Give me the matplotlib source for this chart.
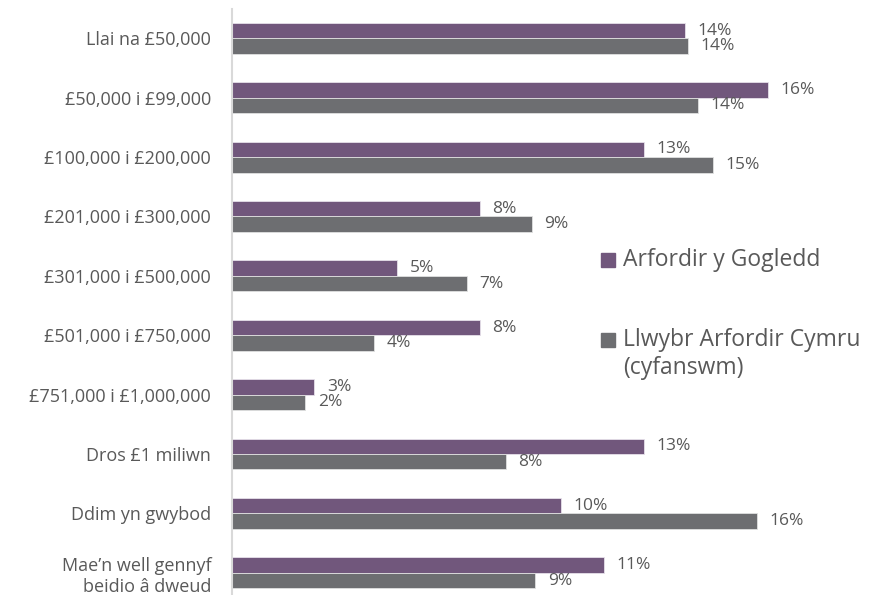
import matplotlib
matplotlib.use('Agg')
import numpy as np
from matplotlib import pyplot as plt
from matplotlib.patches import Rectangle

plt.rcParams['font.family'] = ['Open Sans', 'DejaVu Sans']

# --- Data ---
categories = ['Llai na £50,000', '£50,000 i £99,000', '£100,000 i £200,000',
              '£201,000 i £300,000', '£301,000 i £500,000', '£501,000 i £750,000',
              '£751,000 i £1,000,000', 'Dros £1 miliwn', 'Ddim yn gwybod',
              'Mae’n well gennyf\nbeidio â dweud']
gogledd = [13.9, 16.45, 12.65, 7.6, 5.07, 7.6, 2.53, 12.65, 10.1, 11.4]
cymru = [14.0, 14.3, 14.76, 9.2, 7.2, 4.36, 2.25, 8.4, 16.1, 9.3]
series_names = ['Arfordir y Gogledd', 'Llwybr Arfordir Cymru\n(cyfanswm)']

purple = '#71577c'
grey = '#6d6e71'
text_c = '#595959'

W, H = 870, 595
fig = plt.figure(figsize=(W / 100, H / 100), dpi=100)
# axes placed in pixel terms (left, top, right, bottom)
l, t, r, b = 232, 8.6, 232 + 18 * 32.6, 602.5
ax = fig.add_axes([l / W, 1 - b / H, (r - l) / W, (b - t) / H])

y = np.arange(len(categories))
h = 0.26
bars_g = ax.barh(y - h / 2, gogledd, height=h, color=purple,
                 edgecolor='#e6e0ea', linewidth=0.6)
bars_c = ax.barh(y + h / 2, cymru, height=h, color=grey,
                 edgecolor='#e0e0e0', linewidth=0.6)

# data labels, rounded to whole percent
for bars, vals in [(bars_g, gogledd), (bars_c, cymru)]:
    ax.bar_label(bars, labels=[f'{v:.0f}%' for v in vals], padding=9,
                 fontsize=12.5, color=text_c)

ax.set_xlim(0, 18)
ax.set_ylim(len(categories) - 0.5, -0.5)
ax.set_yticks(y)
ax.set_yticklabels(categories, fontsize=13, color=text_c, linespacing=1.25)
ax.tick_params(axis='y', length=0, pad=15)
ax.set_xticks([])
for s in ['top', 'right', 'bottom']:
    ax.spines[s].set_visible(False)
ax.spines['left'].set_color('#d9d9d9')
ax.spines['left'].set_linewidth(1.5)

# --- Legend (drawn by hand so the marker sits on the first line) ---
for (yc, name, col) in [(259.7, series_names[0], purple), (340, series_names[1], grey)]:
    fig.add_artist(Rectangle((601 / W, 1 - (yc + 7) / H), 14 / W, 14 / H,
                             transform=fig.transFigure, color=col))
    fig.text(623 / W, 1 - (yc - 11.5) / H, name, fontsize=16.5, color=text_c,
             va='top', ha='left', linespacing=1.22)

fig.savefig('out.png', dpi=100)
